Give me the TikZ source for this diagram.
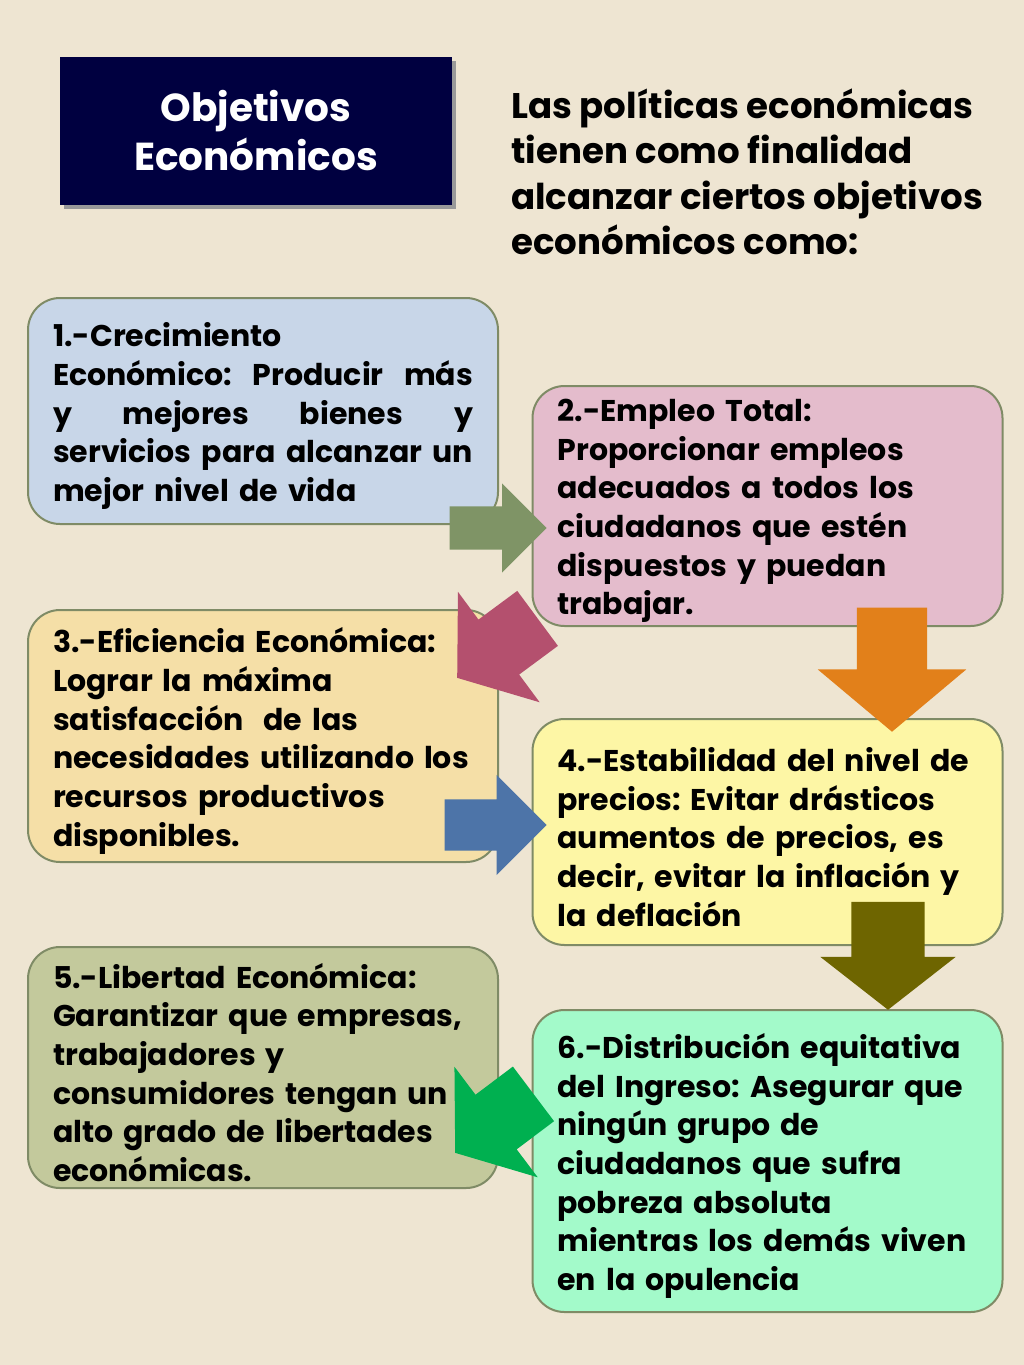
\documentclass[tikz,border=0pt]{standalone}
\usepackage{fontspec}
\setmainfont{Poppins}
\usetikzlibrary{shapes,arrows,positioning,shadows}
\definecolor{parchment}{HTML}{EEE5D2}
\definecolor{navy}{HTML}{000040}
\definecolor{edge}{HTML}{7F8B66}
\definecolor{goalA}{HTML}{C8D6E8}
\definecolor{goalB}{HTML}{E4BCCC}
\definecolor{goalC}{HTML}{F5DFA7}
\definecolor{goalD}{HTML}{FDF6A5}
\definecolor{goalE}{HTML}{C3C99C}
\definecolor{goalF}{HTML}{A3FACA}
\definecolor{sage}{HTML}{7F9466}
\definecolor{berry}{HTML}{B4506E}
\definecolor{steel}{HTML}{4D74A8}
\definecolor{amber}{HTML}{E2801A}
\definecolor{olive}{HTML}{6E6500}
\definecolor{emerald}{HTML}{00B050}
\newcommand{\spreadline}[1]{\leavevmode\hbox to 420pt{#1}}
\newcommand{\lowertext}{\par\vspace{-10pt}}
\frenchspacing

\begin{document}
\begin{tikzpicture}[x=1pt,y=-1pt,
                goal/.style={draw=edge, line width=2pt, rounded corners=32pt, minimum width=470pt, text width=420pt, align=left, inner sep=0pt, outer sep=0pt, font=\bfseries\fontsize{30}{38.7}\selectfont, execute at end node=\lowertext},
                headline/.style={fill=navy, text=white, align=center, minimum width=392pt, minimum height=148pt, inner sep=0pt, font=\bfseries\fontsize{39}{49}\selectfont, drop shadow={shadow xshift=4pt, shadow yshift=-4pt, fill=gray!80, opacity=1}},
                intro/.style={align=left, inner sep=0pt, font=\bfseries\fontsize{35.6}{45.5}\selectfont},
                bigarrow/.style={single arrow, draw=none, anchor=tip, inner xsep=0pt}
                ]
                \fill[parchment] (0,0) rectangle (1024,1365);
                \useasboundingbox (0,0) rectangle (1024,1365);

                \node[headline] (title) at (256,131) {Objetivos\\Económicos};
                \node[intro, anchor=west] (intro) at (511,172) {Las políticas económicas\\tienen como finalidad\\alcanzar ciertos objetivos\\económicos como:};

                \node[goal, fill=goalA, minimum height=226pt] (growth) at (263,411) {1.-Crecimiento\\\spreadline{Económico:\hfil Producir\hfil más}\\\spreadline{y\hfil mejores\hfil bienes\hfil y}\\\spreadline{servicios\hfil para\hfil alcanzar\hfil un}\\mejor nivel de vida};
                \node[goal, fill=goalB, minimum height=240pt] (jobs) at (767.5,506) {2.-Empleo Total:\\Proporcionar empleos\\adecuados a todos los\\ciudadanos que estén\\dispuestos y puedan\\trabajar.};
                \node[goal, fill=goalC, minimum height=252pt, below=86pt of growth] (efficiency) {3.-Eficiencia Económica:\\Lograr la máxima\\satisfacción~ de las\\necesidades utilizando los\\recursos productivos\\disponibles.};
                \node[goal, fill=goalD, minimum height=226pt, below=93pt of jobs] (prices) {4.-Estabilidad del nivel de\\precios: Evitar drásticos\\aumentos de precios, es\\decir, evitar la inflación y\\la deflación};
                \node[goal, fill=goalE, minimum height=241pt, below=85pt of efficiency] (freedom) {5.-Libertad Económica:\\Garantizar que empresas,\\trabajadores y\\consumidores tengan un\\alto grado de libertades\\económicas.};
                \node[goal, fill=goalF, minimum height=302pt, below=65pt of prices] (income) {6.-Distribución equitativa\\del Ingreso: Asegurar que\\ningún grupo de\\ciudadanos que sufra\\pobreza absoluta\\mientras los demás viven\\en la opulencia};

                % block arrows between the goals
                \node[bigarrow, fill=sage, minimum height=97pt, inner ysep=21.5pt, single arrow head extend=23pt, single arrow tip angle=90] (growth-jobs) at (547,528) {};
                \node[bigarrow, fill=berry, rotate=216.5, minimum height=100pt, inner ysep=34pt, single arrow head extend=34.5pt, single arrow tip angle=106] (jobs-efficiency) at (457,678) {};
                \node[bigarrow, fill=steel, minimum height=102pt, inner ysep=25.5pt, single arrow head extend=24.5pt, single arrow tip angle=90] (efficiency-prices) at (547,825) {};
                \node[bigarrow, fill=amber, rotate=-90, minimum height=124pt, inner ysep=35pt, single arrow head extend=39pt, single arrow tip angle=100] (jobs-prices) at (892,732) {};
                \node[bigarrow, fill=olive, rotate=-90, minimum height=108pt, inner ysep=36.5pt, single arrow head extend=31pt, single arrow tip angle=104] (prices-income) at (888,1010) {};
                \node[bigarrow, fill=emerald, rotate=217, minimum height=98pt, inner ysep=34pt, single arrow head extend=35pt, single arrow tip angle=107] (income-freedom) at (455,1153) {};
        \end{tikzpicture}
\end{document}
